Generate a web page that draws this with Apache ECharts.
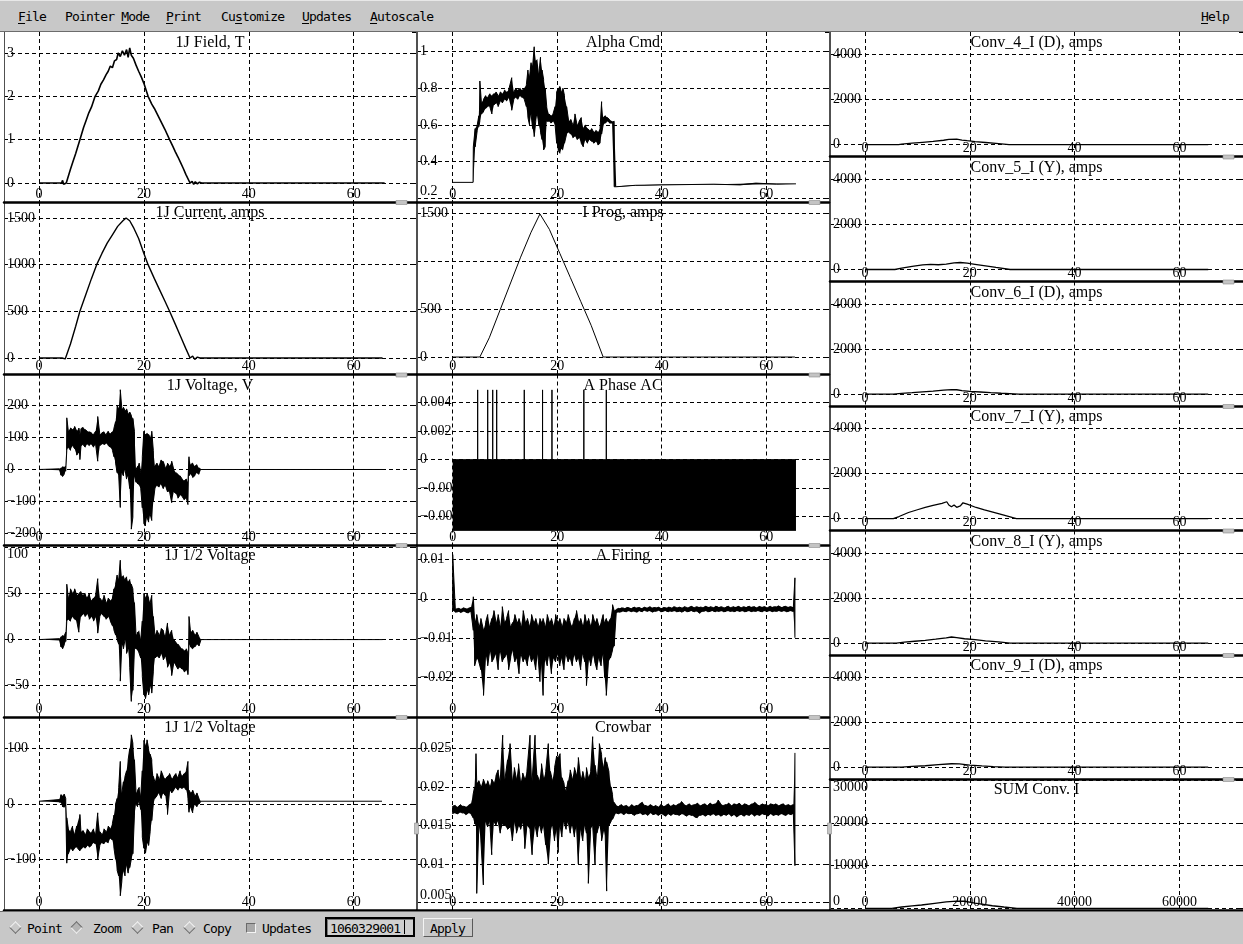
<!DOCTYPE html>
<html>
<head>
<meta charset="utf-8">
<title>Shot 1060329001</title>
<script src="https://cdn.jsdelivr.net/npm/echarts@6.0.0/dist/echarts.min.js"></script>
<style>
  html, body { margin: 0; padding: 0; width: 1243px; height: 944px; overflow: hidden; background: #ffffff; }
  #chart { position: absolute; left: 0; top: 0; width: 1243px; height: 944px; }
  .strip { position: absolute; left: 0; width: 1243px; background: #c8c8c8; z-index: 2; }
  #menu { top: 0; height: 30px; border-top: 1px solid #e8e8e8; border-bottom: 1px solid #6c6c6c; }
  #tools { top: 911px; height: 33px; border-top: 1px solid #6c6c6c; }
  .t { position: absolute; z-index: 3; white-space: pre; color: #000; line-height: 15px;
       font-family: "DejaVu Sans Mono", "Liberation Mono", monospace; font-size: 13px; letter-spacing: -0.8px; }
  .t u { text-decoration: underline; text-underline-offset: 2px; }
  .dia { position: absolute; z-index: 3; width: 7px; height: 7px; transform: rotate(45deg);
         border: 1px solid; border-color: #f4f4f4 #6a6a6a #6a6a6a #f4f4f4; background: #c8c8c8; }
  .dia.on { border-color: #6a6a6a #f4f4f4 #f4f4f4 #6a6a6a; background: #b4b4b4; }
  .chk { position: absolute; z-index: 3; left: 246px; top: 923px; width: 8px; height: 8px;
         border: 1px solid; border-color: #6a6a6a #f4f4f4 #f4f4f4 #6a6a6a; background: #a8a8a8; }
  .entry { position: absolute; z-index: 3; left: 325px; top: 917px; width: 86px; height: 16px;
           border: 2px solid #000; background: #d0d0d0; box-shadow: inset 1px 1px 0 #7a7a7a; }
  .cursor { position: absolute; z-index: 4; left: 404px; top: 920px; width: 1px; height: 14px; background: #000; }
  .btn { position: absolute; z-index: 3; left: 423px; top: 918px; width: 48px; height: 17px;
         border: 1px solid; border-color: #f4f4f4 #5a5a5a #5a5a5a #f4f4f4; background: #c8c8c8; }
</style>
</head>
<body>
<div id="chart"></div>

<div class="strip" id="menu"></div>
<span class="t" style="left:18px;top:9px"><u>F</u>ile</span>
<span class="t" style="left:65px;top:9px">Pointer <u>M</u>ode</span>
<span class="t" style="left:166px;top:9px"><u>P</u>rint</span>
<span class="t" style="left:221px;top:9px">Cu<u>s</u>tomize</span>
<span class="t" style="left:302px;top:9px"><u>U</u>pdates</span>
<span class="t" style="left:370px;top:9px"><u>A</u>utoscale</span>
<span class="t" style="left:1201px;top:9px"><u>H</u>elp</span>

<div class="strip" id="tools"></div>
<div class="dia" style="left:11px;top:923px"></div>
<span class="t" style="left:27px;top:921px">Point</span>
<div class="dia on" style="left:72px;top:923px"></div>
<span class="t" style="left:93px;top:921px">Zoom</span>
<div class="dia" style="left:133px;top:923px"></div>
<span class="t" style="left:152px;top:921px">Pan</span>
<div class="dia" style="left:185px;top:923px"></div>
<span class="t" style="left:203px;top:921px">Copy</span>
<div class="chk"></div>
<span class="t" style="left:262px;top:921px">Updates</span>
<div class="entry"></div>
<span class="t" style="left:330px;top:921px">1060329001</span>
<div class="cursor"></div>
<div class="btn"></div>
<span class="t" style="left:430px;top:921px">Apply</span>

<script>
// ---------- signal values, time in the shot's time units ----------

// 1J Field, T : [t, value]
const fieldT = [[0,0],[4.3,0],[4.5,0.06],[4.7,-0.03],[5.2,0],[6,0.32],[6.5,0.5],[7,0.68],[7.8,1.0],[8.5,1.28],[9,1.45],[9.5,1.62],[10,1.75],[10.7,2.0],[11.3,2.12],[11.8,2.28],[12.3,2.38],[12.8,2.5],[13.2,2.58],[13.6,2.7],[14,2.66],[14.4,2.82],[14.8,2.85],[15.1,3.0],[15.5,2.92],[15.9,3.05],[16.3,2.95],[16.7,3.08],[17.0,2.9],[17.3,3.12],[17.6,2.95],[18.0,2.88],[18.5,2.72],[19,2.58],[19.5,2.45],[20,2.3],[20.8,2.0],[21.5,1.82],[22,1.72],[22.5,1.6],[23,1.48],[23.5,1.36],[24,1.24],[24.9,1.0],[25.5,0.85],[26,0.72],[26.5,0.6],[27,0.47],[27.5,0.34],[28,0.2],[28.8,0],[29.2,0.04],[29.5,-0.03],[29.8,0.03],[30.2,-0.02],[30.6,0.02],[31,0],[65.9,0]];

// 1J Current, amps : [t, value]
const currentA = [[0,0],[4.4,0],[4.7,20],[5.0,-10],[5.3,0],[6,150],[7,340],[7.8,500],[9,690],[10,850],[11,1000],[12,1120],[13,1230],[14,1320],[15,1410],[16,1470],[16.6,1500],[17.3,1470],[18,1400],[19,1280],[20,1120],[20.8,1000],[22,850],[23,730],[24,610],[24.9,500],[26,360],[27,230],[28,100],[28.8,0],[29.3,20],[29.7,-15],[30.2,10],[30.7,0],[65.5,0]];

// Dense signals are stored peak-detected: [t, max, min] per time bin.
// 1J Voltage, V
const voltageV = [[0,0,0],[3.9,2,-2],[4.2,5,-18],[4.5,10,-22],[4.8,8,-15],[5.1,12,-5],
 [5.3,162,60],[5.6,120,70],[6.0,130,60],[6.4,125,75],[6.8,135,65],[7.2,120,45],[7.6,130,55],[7.8,110,31],[8.0,128,72],[8.4,132,78],[8.8,125,70],[9.2,120,80],[9.6,118,75],[10.0,115,80],[10.4,110,70],[10.8,120,78],[11.2,166,26],[11.6,110,75],[12.0,115,80],[12.4,118,78],[12.8,110,82],[13.2,120,75],[13.6,112,70],[14.0,118,60],[14.3,130,40],
 [14.6,150,20],[14.9,200,-10],[15.2,190,-20],[15.5,250,-119],[15.8,190,-10],[16.1,195,-20],[16.4,185,0],[16.7,190,-30],[17.0,175,-20],[17.3,180,-60],[17.6,170,-187],[17.9,160,-150],[18.2,120,-20],
 [18.5,0,-40],[18.8,10,-45],[19.1,20,-50],[19.4,-10,-60],[19.7,40,-120],
 [20.0,120,-170],[20.3,110,-177],[20.6,115,-150],[20.9,110,-165],[21.2,100,-140],[21.5,120,-160],[21.8,60,-100],
 [22.1,10,-60],[22.5,20,-50],[22.9,10,-55],[23.3,30,-45],[23.7,25,-60],[24.1,5,-50],[24.5,20,-70],[24.9,10,-70],[25.3,26,-104],[25.7,0,-70],[26.1,-10,-75],[26.5,-15,-90],[26.9,-20,-80],[27.3,-30,-85],[27.7,-35,-95],[28.1,-30,-90],[28.4,-40,-110],
 [28.6,40,-20],[28.9,15,-15],[29.3,20,-25],[29.7,10,-20],[30.1,15,-10],[30.5,5,-15],[30.9,0,0],[65.5,0,0]];

// 1J 1/2 Voltage (first probe)
const halfVoltage1 = [[0,0,0],[3.9,1,-1],[4.2,3,-8],[4.5,5,-10],[4.8,4,-6],[5.1,8,-2],
 [5.3,60,20],[5.6,45,22],[6.0,55,20],[6.4,50,25],[6.8,55,22],[7.2,48,20],[7.6,50,8],[8.0,52,25],[8.4,48,28],[8.8,50,25],[9.2,45,28],[9.6,50,22],[10.0,42,25],[10.4,45,20],[10.8,48,25],[11.2,66,7],[11.6,45,25],[12.0,42,28],[12.4,48,25],[12.8,40,22],[13.2,45,25],[13.6,42,20],[14.0,45,15],[14.3,55,10],
 [14.6,60,5],[14.9,70,0],[15.2,65,-5],[15.5,86,-45],[15.8,68,-5],[16.1,70,-10],[16.4,65,0],[16.7,68,-15],[17.0,62,-10],[17.3,65,-30],[17.6,60,-67],[17.9,55,-55],[18.2,40,-10],
 [18.5,5,-10],[18.8,8,-12],[19.1,10,-15],[19.4,0,-20],[19.7,20,-40],
 [20.0,50,-60],[20.3,45,-64],[20.6,50,-55],[20.9,45,-60],[21.2,40,-50],[21.5,48,-58],[21.8,25,-35],
 [22.1,5,-20],[22.5,10,-18],[22.9,5,-20],[23.3,12,-15],[23.7,10,-22],[24.1,3,-18],[24.5,18,-30],[24.9,5,-25],[25.3,10,-39],[25.7,0,-25],[26.1,-3,-28],[26.5,-5,-32],[26.9,-8,-30],[27.3,-10,-32],[27.7,-12,-35],[28.1,-10,-33],[28.4,-15,-38],
 [28.6,25,-5],[28.9,8,-8],[29.3,10,-10],[29.7,5,-8],[30.1,8,-5],[30.5,3,-7],[30.9,0,0],[65.5,0,0]];

// 1J 1/2 Voltage (second probe)
const halfVoltage2 = [[0,5,5],[3.9,8,3],[4.2,17,2],[4.5,15,-5],[4.8,18,-7],[5.1,10,-3],
 [5.3,-25,-107],[5.6,-45,-90],[6.0,-50,-80],[6.4,-40,-85],[6.8,-55,-80],[7.2,-40,-78],[7.8,-19,-85],[8.0,-50,-82],[8.4,-48,-78],[8.8,-55,-80],[9.2,-45,-75],[9.6,-50,-78],[10.0,-52,-75],[10.4,-45,-70],[10.8,-55,-72],[11.2,-16,-100],[11.6,-50,-75],[12.0,-55,-70],[12.4,-45,-72],[12.8,-50,-68],[13.2,-40,-70],[13.6,-45,-62],[14.0,-35,-65],[14.3,-20,-80],
 [14.6,0,-100],[14.9,10,-120],[15.2,30,-130],[15.5,77,-166],[15.8,20,-140],[16.1,40,-120],[16.4,50,-130],[16.7,60,-110],[17.0,80,-125],[17.3,100,-115],[17.6,125,-100],[17.9,110,-90],[18.2,80,-20],
 [18.5,20,0],[18.8,25,-5],[19.1,30,5],[19.4,15,-10],[19.7,60,-60],
 [20.0,115,-80],[20.3,105,-89],[20.6,116,-70],[20.9,100,-75],[21.2,90,-50],[21.5,80,-30],[21.8,50,0],
 [22.1,40,10],[22.5,55,15],[22.9,45,20],[23.3,60,10],[23.7,50,20],[24.1,45,15],[24.5,50,-19],[24.9,55,25],[25.3,45,20],[25.7,50,25],[26.1,55,30],[26.5,48,25],[26.9,60,30],[27.3,50,28],[27.7,55,30],[28.1,60,25],[28.4,77,10],
 [28.6,25,-15],[28.9,20,-5],[29.3,25,-16],[29.7,15,0],[30.1,20,-5],[30.5,10,0],[30.9,5,5],[65.4,5,5]];

// Alpha Cmd
const alphaCmd = [[0,0.286,0.286],[3.9,0.286,0.286],[3.95,0.48,0.286],[4.3,0.58,0.48],[4.7,0.60,0.57],[5.0,0.65,0.59],
 [5.2,0.84,0.62],[5.5,0.72,0.66],[5.9,0.74,0.67],[6.3,0.76,0.69],[6.7,0.75,0.70],[7.1,0.77,0.70],[7.5,0.76,0.66],[7.9,0.77,0.71],[8.3,0.78,0.72],[8.7,0.76,0.70],[9.1,0.78,0.73],[9.5,0.77,0.72],[9.9,0.79,0.74],[10.3,0.78,0.73],[10.7,0.79,0.75],[11.3,0.858,0.68],[11.7,0.78,0.74],[12.1,0.80,0.75],[12.5,0.79,0.74],[12.9,0.80,0.76],[13.3,0.79,0.75],[13.7,0.80,0.74],[14.1,0.82,0.70],
 [14.4,0.90,0.64],[14.7,0.86,0.60],[15.0,0.94,0.66],[15.3,0.92,0.58],[15.6,1.027,0.536],[15.9,0.95,0.62],[16.2,0.96,0.66],[16.5,0.88,0.60],[16.8,0.97,0.56],[17.1,0.90,0.52],[17.4,0.85,0.463],[17.7,0.80,0.48],
 [18.0,0.70,0.62],[18.4,0.66,0.62],[18.8,0.65,0.61],[19.2,0.66,0.62],[19.6,0.70,0.60],
 [19.9,0.78,0.50],[20.2,0.80,0.46],[20.5,0.81,0.445],[20.8,0.78,0.47],[21.1,0.80,0.46],[21.4,0.76,0.50],[21.8,0.70,0.55],
 [22.2,0.62,0.56],[22.6,0.63,0.55],[23.0,0.60,0.53],[23.4,0.66,0.54],[23.8,0.60,0.52],[24.2,0.62,0.53],[24.6,0.64,0.50],[25.0,0.58,0.48],[25.4,0.60,0.52],[25.8,0.58,0.50],[26.2,0.57,0.52],[26.6,0.58,0.51],[27.0,0.56,0.50],[27.4,0.57,0.51],[27.8,0.56,0.49],[28.2,0.58,0.50],
 [28.5,0.727,0.55],[28.8,0.64,0.60],[29.2,0.65,0.61],[29.6,0.64,0.62],[30.0,0.63,0.61],[30.5,0.62,0.61],[30.9,0.62,0.262],
 [31.3,0.265,0.262],[35,0.27,0.268],[40,0.275,0.272],[50,0.276,0.273],[55,0.278,0.272],[58,0.282,0.275],[62,0.28,0.276],[65.7,0.278,0.278]];

// I Prog, amps : [t, value]
const iProg = [[0,0],[5.2,0],[7,200],[9,480],[11,760],[13,1040],[15,1300],[16.7,1490],[18.5,1330],[20.5,1080],[22.5,830],[24.5,580],[26.5,330],[28.8,0],[65.5,0]];

// A Phase AC : lower envelope of the dense oscillation, and pulse times with pulse height
const phaseEnvelope = [[0,-0.00496],[65.7,-0.00496]];
const phasePulseT = [4.78, 6.7, 7.66, 8.42, 13.7, 17.2, 19.0, 25.1, 29.4];
const phasePulseHeight = 0.0049;
const phaseEndT = 65.7;

// A Firing
const aFiring = [[0,0.0112,-0.0030],
 [0.5,-0.0025,-0.0034],[1,-0.0024,-0.0033],[1.5,-0.0026,-0.0035],[2,-0.0023,-0.0032],[2.5,-0.0025,-0.0034],[3,-0.0024,-0.0036],[3.5,-0.0022,-0.0033],
 [3.95,0.0005,-0.0080],
 [4.2,-0.0060,-0.0170],[4.6,-0.0040,-0.0150],[5.0,-0.0070,-0.0160],[5.4,-0.0050,-0.0180],[5.9,-0.0080,-0.0245],[6.3,-0.0060,-0.0140],[6.7,-0.0040,-0.0170],[7.1,-0.0070,-0.0130],[7.5,-0.0050,-0.0160],[7.9,-0.0030,-0.0150],[8.3,-0.0060,-0.0140],[8.7,-0.0040,-0.0180],[9.1,-0.0070,-0.0130],[9.5,-0.0020,-0.0160],[9.9,-0.0060,-0.0150],[10.3,-0.0050,-0.0140],[10.7,-0.0030,-0.0180],[11.1,-0.0070,-0.0150],[11.5,-0.0060,-0.0130],[11.9,-0.0040,-0.0160],[12.3,-0.0060,-0.0150],[12.7,-0.0050,-0.0190],[13.1,-0.0070,-0.0140],[13.5,-0.0030,-0.0160],[13.9,-0.0060,-0.0150],[14.3,-0.0050,-0.0170],[14.7,-0.0070,-0.0140],[15.1,-0.0040,-0.0160],[15.5,-0.0060,-0.0150],[15.9,-0.0050,-0.0180],[16.3,-0.0070,-0.0140],[16.7,-0.0050,-0.0210],[17.0,-0.0060,-0.0160],[17.3,-0.0050,-0.0245],[17.7,-0.0070,-0.0150],[18.1,-0.0040,-0.0170],[18.5,-0.0060,-0.0140],[18.9,-0.0050,-0.0190],[19.3,-0.0070,-0.0150],[19.7,-0.0040,-0.0160],[20.1,-0.0060,-0.0140],[20.5,-0.0050,-0.0170],[20.9,-0.0070,-0.0150],[21.3,-0.0050,-0.0180],[21.7,-0.0060,-0.0140],[22.1,-0.0040,-0.0160],[22.5,-0.0060,-0.0150],[22.9,-0.0070,-0.0170],[23.3,-0.0050,-0.0140],[23.7,-0.0030,-0.0160],[24.1,-0.0060,-0.0150],[24.5,-0.0050,-0.0180],[24.9,-0.0070,-0.0140],[25.3,-0.0040,-0.0160],[25.6,-0.0060,-0.0220],[26.0,-0.0050,-0.0150],[26.4,-0.0070,-0.0170],[26.8,-0.0040,-0.0140],[27.2,-0.0060,-0.0160],[27.6,-0.0050,-0.0180],[28.0,-0.0070,-0.0150],[28.4,-0.0060,-0.0170],[28.8,-0.0040,-0.0140],[29.1,-0.0060,-0.0200],[29.4,-0.0050,-0.0245],[29.8,-0.0060,-0.0160],[30.2,-0.0050,-0.0150],[30.6,-0.0015,-0.0130],[30.9,-0.0030,-0.0120],
 [31.3,-0.0027,-0.0036],[31.8,-0.0024,-0.0034],[32.3,-0.0023,-0.0033],[32.8,-0.0024,-0.0032],[33.3,-0.0022,-0.0033],[33.8,-0.0023,-0.0031],[34.3,-0.0024,-0.0033],[34.8,-0.0021,-0.0032],[35.3,-0.0023,-0.0034],[35.8,-0.0022,-0.0031],[36.3,-0.0024,-0.0033],[36.8,-0.0021,-0.0030],[37.3,-0.0023,-0.0032],[37.8,-0.0020,-0.0031],[38.3,-0.0023,-0.0034],[38.8,-0.0022,-0.0032],[39.3,-0.0021,-0.0030],[39.8,-0.0024,-0.0033],[40.3,-0.0022,-0.0032],[40.8,-0.0023,-0.0031],[41.3,-0.0021,-0.0033],[41.8,-0.0023,-0.0032],[42.3,-0.0020,-0.0031],[42.8,-0.0022,-0.0033],[43.3,-0.0021,-0.0032],[43.8,-0.0023,-0.0034],[44.3,-0.0020,-0.0031],[44.8,-0.0022,-0.0033],[45.3,-0.0021,-0.0032],[45.8,-0.0019,-0.0031],[46.3,-0.0022,-0.0033],[46.8,-0.0020,-0.0032],[47.3,-0.0021,-0.0037],[47.8,-0.0022,-0.0032],[48.3,-0.0019,-0.0031],[48.8,-0.0021,-0.0033],[49.3,-0.0020,-0.0032],[49.8,-0.0022,-0.0031],[50.3,-0.0019,-0.0033],[50.8,-0.0021,-0.0032],[51.3,-0.0020,-0.0031],[51.8,-0.0022,-0.0033],[52.3,-0.0021,-0.0032],[52.8,-0.0019,-0.0031],[53.3,-0.0022,-0.0032],[53.8,-0.0020,-0.0033],[54.3,-0.0021,-0.0031],[54.8,-0.0019,-0.0032],[55.3,-0.0022,-0.0031],[55.8,-0.0020,-0.0033],[56.3,-0.0021,-0.0032],[56.8,-0.0019,-0.0031],[57.3,-0.0021,-0.0033],[57.8,-0.0020,-0.0032],[58.3,-0.0022,-0.0031],[58.8,-0.0019,-0.0032],[59.3,-0.0021,-0.0033],[59.8,-0.0020,-0.0031],[60.3,-0.0022,-0.0032],[60.8,-0.0019,-0.0031],[61.3,-0.0021,-0.0033],[61.8,-0.0020,-0.0032],[62.3,-0.0018,-0.0031],[62.8,-0.0021,-0.0032],[63.3,-0.0020,-0.0031],[63.8,-0.0019,-0.0033],[64.3,-0.0021,-0.0032],[64.8,-0.0020,-0.0031],[65.2,-0.0021,-0.0032],[65.5,0.0053,-0.0099]];

// Crowbar
const crowbar = [[0,0.0175,0.0165],[0.5,0.0176,0.0166],[1.0,0.0174,0.0165],[1.5,0.0177,0.0167],[2.0,0.0175,0.0166],[2.5,0.0174,0.0164],[3.0,0.0176,0.0166],[3.5,0.0178,0.0165],[3.9,0.0190,0.0160],
 [4.2,0.0200,0.0152],[4.46,0.0243,0.0150],[4.6,0.0205,0.0062],[5.0,0.0208,0.0150],[5.4,0.0200,0.0130],[5.87,0.0210,0.0073],[6.3,0.0202,0.0155],[6.7,0.0208,0.0148],[7.1,0.0200,0.0155],[7.47,0.0210,0.0112],[7.9,0.0205,0.0155],[8.3,0.0215,0.0150],[8.7,0.0222,0.0156],[9.1,0.0208,0.0140],[9.57,0.0267,0.0152],[10.0,0.0210,0.0150],[10.5,0.0235,0.0145],[10.98,0.0256,0.0148],[11.4,0.0208,0.0130],[11.8,0.0225,0.0155],[12.2,0.0210,0.0140],[12.6,0.0230,0.0150],[13.0,0.0205,0.0145],[13.4,0.0218,0.0155],[13.8,0.0210,0.0120],[14.2,0.0220,0.0150],[14.8,0.0267,0.0145],[15.2,0.0208,0.0112],[15.76,0.0267,0.0150],[16.2,0.0215,0.0135],[16.6,0.0208,0.0152],[17.0,0.0230,0.0140],[17.4,0.0210,0.0150],[17.8,0.0220,0.0125],[18.3,0.0256,0.0100],[18.7,0.0220,0.0140],[19.1,0.0208,0.0152],[19.5,0.0225,0.0130],[19.9,0.0240,0.0145],[20.2,0.0238,0.0115],[20.55,0.0243,0.0150],[20.9,0.0212,0.0135],[21.3,0.0205,0.0155],[21.7,0.0195,0.0145],[22.1,0.0208,0.0155],[22.5,0.0222,0.0140],[22.9,0.0210,0.0152],[23.3,0.0225,0.0135],[23.7,0.0215,0.0150],[24.05,0.0238,0.0100],[24.5,0.0210,0.0145],[24.9,0.0220,0.0130],[25.3,0.0208,0.0150],[25.6,0.0225,0.0140],[25.96,0.0212,0.0075],[26.4,0.0220,0.0145],[26.79,0.0265,0.0150],[27.24,0.0228,0.0100],[27.6,0.0212,0.0140],[28.07,0.0256,0.0152],[28.5,0.0242,0.0130],[28.9,0.0225,0.0145],[29.2,0.0238,0.0135],[29.47,0.0232,0.0065],[29.9,0.0220,0.0150],[30.3,0.0200,0.0155],[30.6,0.0190,0.0158],[30.87,0.0180,0.0162],
 [31.3,0.0176,0.0166],[31.8,0.0175,0.0165],[32.3,0.0177,0.0166],[32.8,0.0175,0.0164],[33.3,0.0176,0.0166],[33.8,0.0174,0.0165],[34.3,0.0177,0.0165],[34.8,0.0175,0.0163],[35.3,0.0176,0.0165],[35.8,0.0178,0.0166],[36.3,0.0180,0.0164],[36.8,0.0176,0.0165],[37.3,0.0175,0.0163],[37.8,0.0177,0.0166],[38.3,0.0175,0.0164],[38.8,0.0176,0.0165],[39.3,0.0174,0.0163],[39.8,0.0177,0.0165],[40.3,0.0175,0.0164],[40.8,0.0176,0.0162],[41.3,0.0178,0.0165],[41.8,0.0175,0.0163],[42.3,0.0177,0.0165],[42.8,0.0176,0.0164],[43.3,0.0178,0.0163],[43.8,0.0181,0.0165],[44.3,0.0177,0.0164],[44.8,0.0176,0.0162],[45.3,0.0178,0.0164],[45.8,0.0176,0.0163],[46.3,0.0177,0.0161],[46.8,0.0179,0.0160],[47.3,0.0176,0.0163],[47.8,0.0177,0.0164],[48.3,0.0178,0.0162],[48.8,0.0176,0.0164],[49.3,0.0179,0.0163],[49.8,0.0177,0.0165],[50.3,0.0178,0.0163],[50.8,0.0183,0.0164],[51.3,0.0178,0.0162],[51.8,0.0176,0.0164],[52.3,0.0177,0.0163],[52.8,0.0179,0.0165],[53.3,0.0176,0.0162],[53.8,0.0178,0.0164],[54.3,0.0177,0.0161],[54.8,0.0179,0.0163],[55.3,0.0176,0.0164],[55.8,0.0178,0.0162],[56.3,0.0177,0.0164],[56.8,0.0176,0.0163],[57.3,0.0178,0.0165],[57.8,0.0180,0.0162],[58.3,0.0177,0.0164],[58.8,0.0176,0.0163],[59.3,0.0178,0.0165],[59.8,0.0177,0.0164],[60.3,0.0176,0.0162],[60.8,0.0178,0.0165],[61.3,0.0177,0.0163],[61.8,0.0178,0.0164],[62.3,0.0176,0.0163],[62.8,0.0177,0.0165],[63.3,0.0178,0.0164],[63.8,0.0176,0.0163],[64.3,0.0177,0.0165],[64.8,0.0176,0.0164],[65.2,0.0177,0.0165],[65.5,0.0244,0.0098]];

// Converter currents, amps : [t, value]
const conv4 = [[0,0],[6.4,0],[7,20],[9,60],[11,100],[13,140],[15,190],[16,230],[17.5,240],[18.5,200],[19.5,170],[21,130],[23,90],[25,50],[26.5,20],[27.5,0],[31,0],[31.1,30],[31.2,0],[65.5,0]];
const conv5 = [[0,0],[5.7,0],[7,60],[9,140],[11,200],[12.5,230],[14,210],[15.5,240],[17,290],[18.2,310],[19.5,280],[21,230],[23,160],[25,90],[27.7,0],[65.5,0]];
const conv6 = [[0,0],[5.4,0],[7,30],[9,60],[11,100],[13,130],[15,170],[16.5,195],[17.5,190],[18.5,150],[20,120],[22,90],[24,60],[26,35],[29.3,0],[65.5,0]];
const conv7 = [[0,0],[5.4,0],[6.5,90],[8.3,268],[10,390],[11.5,491],[13,580],[14.7,670],[15.6,745],[16,600],[16.5,520],[17,600],[17.5,500],[18.2,560],[18.7,700],[19.5,640],[21.2,490],[22.8,380],[24.4,283],[26.5,150],[28.9,0],[65.5,0]];
const conv8 = [[0,0],[6,0],[7.5,40],[9.5,80],[11.5,119],[13.5,170],[15.5,230],[16.5,268],[17.5,240],[19,190],[21,149],[23,100],[25.5,50],[27.7,0],[65.5,0]];
const conv9 = [[0,0],[7,0],[9,30],[11.5,60],[14,110],[16.5,149],[18,140],[20,90],[22.3,50],[24.5,20],[26.7,0],[65.5,0]];
// SUM Conv. I : [sample, value]
const sumConv = [[0,0],[5100,0],[7000,300],[9000,550],[10800,770],[13300,1170],[15500,1500],[17500,1700],[19000,1650],[21000,1200],[24300,600],[26500,300],[29000,0],[65500,0]];

// ---------- panel layout ----------
const COLS = {
  L: { left: 4,   right: 416,  xMin: -6.67, xMax: 71.88, xStep: 20 },
  M: { left: 417, right: 829,  xMin: -6.83, xMax: 72.02, xStep: 20 },
  R: { left: 830, right: 1243, xMin: -6.68, xMax: 72.14, xStep: 20 }
};

const panels = [
  { col: 'L', top: 32,    bottom: 202,   title: '1J Field, T',      yMin: -0.438, yMax: 3.485,  yStep: 1,     width: 1.6, marks: [['line', fieldT]] },
  { col: 'L', top: 202,   bottom: 374.5, title: '1J Current, amps', yMin: -177,   yMax: 1671,   yStep: 500,   width: 1.4, marks: [['line', currentA]] },
  { col: 'L', top: 374.5, bottom: 545,   title: '1J Voltage, V',    yMin: -236.7, yMax: 297.8,  yStep: 100,   marks: [['peak', voltageV]] },
  { col: 'L', top: 545,   bottom: 717,   title: '1J 1/2 Voltage',   yMin: -83.9,  yMax: 102.5,  yStep: 50,    marks: [['peak', halfVoltage1]] },
  { col: 'L', top: 717,   bottom: 910,   title: '1J 1/2 Voltage',   yMin: -191.7, yMax: 157.3,  yStep: 100,   marks: [['peak', halfVoltage2]] },
  { col: 'M', top: 32,    bottom: 202,   title: 'Alpha Cmd',        yMin: 0.1787, yMax: 1.1077, yStep: 0.2,   marks: [['peak', alphaCmd]] },
  { col: 'M', top: 202,   bottom: 374.5, title: 'I Prog, amps',     yMin: -182,   yMax: 1614.6, yStep: 500,   hide: [1000], marks: [['line', iProg]] },
  { col: 'M', top: 374.5, bottom: 545,   title: 'A Phase AC',       yMin: -0.00599, yMax: 0.00598, yStep: 0.002, marks: [['band', phaseEnvelope], ['pulses', phasePulseT]] },
  { col: 'M', top: 545,   bottom: 717,   title: 'A Firing',         yMin: -0.02996, yMax: 0.01362, yStep: 0.01, marks: [['peak', aFiring]] },
  { col: 'M', top: 717,   bottom: 910,   title: 'Crowbar',          yMin: 0.00405, yMax: 0.02905, yStep: 0.005, marks: [['peak', crowbar]] },
  { col: 'R', top: 32,    bottom: 156.5, title: 'Conv_4_I (D), amps', yMin: -530, yMax: 4990, yStep: 2000, width: 1.3, marks: [['line', conv4]] },
  { col: 'R', top: 156.5, bottom: 281.5, title: 'Conv_5_I (Y), amps', yMin: -530, yMax: 4990, yStep: 2000, width: 1.3, marks: [['line', conv5]] },
  { col: 'R', top: 281.5, bottom: 406,   title: 'Conv_6_I (D), amps', yMin: -530, yMax: 4990, yStep: 2000, width: 1.3, marks: [['line', conv6]] },
  { col: 'R', top: 406,   bottom: 530.5, title: 'Conv_7_I (Y), amps', yMin: -530, yMax: 4990, yStep: 2000, width: 1.3, marks: [['line', conv7]] },
  { col: 'R', top: 530.5, bottom: 655,   title: 'Conv_8_I (Y), amps', yMin: -530, yMax: 4990, yStep: 2000, width: 1.3, marks: [['line', conv8]] },
  { col: 'R', top: 655,   bottom: 779,   title: 'Conv_9_I (D), amps', yMin: -530, yMax: 4990, yStep: 2000, width: 1.3, marks: [['line', conv9]] },
  { col: 'R', top: 779,   bottom: 910,   title: 'SUM Conv. I',        yMin: -397, yMax: 30234, yStep: 10000, xScale: 1000, width: 1.3, marks: [['line', sumConv]] }
];

const SERIF = '"Liberation Serif", "Times New Roman", serif';
const INK = '#000000';
const gridDash = { type: [4, 3], color: INK, width: 1 };

// Tick text: at most five characters, true minus sign
function tickText(v) {
  let s = String(Number(Number(v).toPrecision(12)));
  if (s.length > 5) s = s.slice(0, 5);
  return s.replace('-', '\u2212');
}

// Keep y labels that sit at a panel edge inside the panel
function yLabelFormatter(p) {
  const h = p.bottom - p.top;
  return function (v) {
    if (p.hide && p.hide.indexOf(v) >= 0) return '';
    const pos = (p.yMax - v) / (p.yMax - p.yMin) * h;
    const s = tickText(v);
    if (pos < 8) return '\n' + s;
    if (h - pos < 8) return s + '\n';
    return s;
  };
}

// Peak-detected bins -> polyline: each bin drawn as a vertical min-max stroke
function peakPath(bins) {
  const out = [];
  bins.forEach(function (b, i) {
    if (i % 2 === 0) { out.push([b[0], b[2]], [b[0], b[1]]); }
    else { out.push([b[0], b[1]], [b[0], b[2]]); }
  });
  return out;
}

function pulsePath(times, height, endT) {
  const out = [[0, 0]];
  times.forEach(function (t) { out.push([t, 0], [t, height], [t, 0]); });
  out.push([endT, 0]);
  return out;
}

// Filled min-max envelope of a peak-detected signal
function envelopeSeries(i, bins) {
  return {
    type: 'custom', xAxisIndex: i, yAxisIndex: 2 * i, silent: true, animation: false, clip: true,
    data: bins, encode: { x: 0, y: [1, 2] }, z: 2,
    renderItem: function (params, api) {
      if (params.dataIndex !== 0) return null;
      const upper = bins.map(function (b) { return api.coord([b[0], b[1]]); });
      const lower = bins.slice().reverse().map(function (b) { return api.coord([b[0], b[2]]); });
      return { type: 'polygon', shape: { points: upper.concat(lower) }, style: { fill: INK } };
    }
  };
}

const grid = [], xAxis = [], yAxis = [], series = [], graphic = [];

panels.forEach(function (p, i) {
  const c = COLS[p.col];
  const xs = p.xScale || 1;
  grid.push({ left: c.left, top: p.top, width: c.right - c.left, height: p.bottom - p.top,
              containLabel: false, outerBoundsMode: 'none' });

  xAxis.push({
    gridIndex: i, type: 'value', min: c.xMin * xs, max: c.xMax * xs,
    minInterval: c.xStep * xs, maxInterval: c.xStep * xs,
    axisLine: { show: true, onZero: false, lineStyle: { color: INK, width: 2.5 } },
    axisTick: { show: false },
    axisLabel: { inside: true, margin: 1, showMinLabel: false, showMaxLabel: false,
                 color: INK, fontFamily: SERIF, fontSize: 14, formatter: tickText },
    splitLine: { show: true, showMinLine: false, showMaxLine: false, lineStyle: gridDash }
  });

  yAxis.push({
    gridIndex: i, type: 'value', position: 'left', min: p.yMin, max: p.yMax,
    minInterval: p.yStep, maxInterval: p.yStep,
    axisLine: { show: true, onZero: false, lineStyle: { color: '#505050', width: 1 } },
    axisTick: { show: false },
    axisLabel: { inside: true, margin: 3, showMinLabel: false, showMaxLabel: false,
                 color: INK, fontFamily: SERIF, fontSize: 14, formatter: yLabelFormatter(p) },
    splitLine: { show: true, showMinLine: false, showMaxLine: false, lineStyle: gridDash }
  });
  yAxis.push({
    gridIndex: i, type: 'value', position: 'right', min: p.yMin, max: p.yMax,
    minInterval: p.yStep, maxInterval: p.yStep,
    axisLine: { show: true, onZero: false, lineStyle: { color: '#505050', width: 1 } },
    axisTick: { show: true, inside: true, length: 4, lineStyle: { color: INK } },
    axisLabel: { show: false },
    splitLine: { show: false }
  });

  p.marks.forEach(function (m) {
    const base = {
      type: 'line', xAxisIndex: i, yAxisIndex: 2 * i, showSymbol: false, symbol: 'none',
      silent: true, animation: false, clip: true, z: 3,
      lineStyle: { color: INK, width: p.width || 1 }
    };
    if (m[0] === 'line') base.data = m[1];
    else if (m[0] === 'peak') { series.push(envelopeSeries(i, m[1])); base.data = peakPath(m[1]); }
    else if (m[0] === 'band') { base.data = m[1]; base.areaStyle = { color: INK, opacity: 1 }; }
    else if (m[0] === 'pulses') base.data = pulsePath(m[1], phasePulseHeight, phaseEndT);
    series.push(base);
  });

  // panel title
  graphic.push({ type: 'text', x: (c.left + c.right) / 2, y: p.top + 11, z: 100, silent: true,
    style: { text: p.title, fill: INK, font: '16px ' + SERIF, align: 'center', verticalAlign: 'middle' } });

  // separator handle at the right end of the panel's lower edge
  if (p.bottom < 905) {
    graphic.push({ type: 'rect', x: c.right - 20, y: p.bottom - 1.5, z: 100, silent: true,
      shape: { width: 11, height: 4 }, style: { fill: '#c4c4c4', stroke: '#8a8a8a', lineWidth: 0.6 } });
  }
});

// column handles
[414.5, 827.5].forEach(function (x) {
  graphic.push({ type: 'rect', x: x, y: 823, z: 100, silent: true,
    shape: { width: 4, height: 11 }, style: { fill: '#c4c4c4', stroke: '#8a8a8a', lineWidth: 0.6 } });
});

const chart = echarts.init(document.getElementById('chart'), null, { renderer: 'canvas' });
chart.setOption({
  backgroundColor: '#ffffff',
  animation: false,
  grid: grid,
  xAxis: xAxis,
  yAxis: yAxis,
  series: series,
  graphic: graphic
});
</script>
</body>
</html>
